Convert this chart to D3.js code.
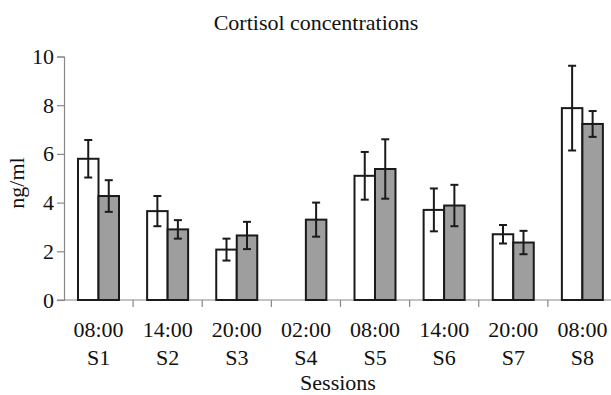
<!DOCTYPE html>
<html>
<head>
<meta charset="utf-8">
<script src="https://cdn.jsdelivr.net/npm/d3@7"></script>
<style>
  body { margin: 0; background: #fff; }
  text { font-family: "Liberation Serif", "Times New Roman", serif; fill: #111; }
</style>
</head>
<body>
<script>
// data
const sessions = ["S1", "S2", "S3", "S4", "S5", "S6", "S7", "S8"];
const times = ["08:00", "14:00", "20:00", "02:00", "08:00", "14:00", "20:00", "08:00"];
const whiteMeans = [5.8, 3.65, 2.07, null, 5.1, 3.7, 2.7, 7.88];
const whiteErr = [0.77, 0.62, 0.45, null, 0.98, 0.88, 0.38, 1.74];
const grayMeans = [4.27, 2.9, 2.65, 3.3, 5.38, 3.88, 2.36, 7.23];
const grayErr = [0.65, 0.38, 0.56, 0.7, 1.22, 0.85, 0.48, 0.53];
const yTicks = [0, 2, 4, 6, 8, 10];

const chart = {
    width: 611,
    height: 395,
    left: 64,
    right: 617,
    top: 56.5,
    bottom: 300
};

const svg = d3.select("body").append("svg")
    .attr("width", chart.width)
    .attr("height", chart.height);

const x = d3.scaleBand()
    .domain(sessions)
    .range([chart.left, chart.right]);

const x1 = d3.scaleBand()
    .domain(["white", "gray"])
    .range([14, 55]);

const y = d3.scaleLinear()
    .domain([0, 10])
    .range([chart.bottom, chart.top]);

// title
svg.append("text")
    .attr("x", 316)
    .attr("y", 30)
    .attr("text-anchor", "middle")
    .style("font-size", "22px")
    .text("Cortisol concentrations");

// y axis
const yAxis = svg.append("g")
    .attr("transform", "translate(" + chart.left + ",0)")
    .call(d3.axisLeft(y).tickValues(yTicks).tickSize(7).tickPadding(3));
yAxis.select(".domain").attr("stroke", "#888").attr("stroke-width", 1.2);
yAxis.selectAll(".tick line").attr("stroke", "#888").attr("stroke-width", 1.2);
yAxis.selectAll(".tick text")
    .style("font-size", "22px")
    .style("font-family", "Liberation Serif, serif")
    .attr("fill", "#111");

svg.append("text")
    .attr("transform", "translate(24,183) rotate(-90)")
    .attr("text-anchor", "middle")
    .style("font-size", "22px")
    .text("ng/ml");

// x axis
const xAxis = svg.append("g")
    .attr("transform", "translate(0," + chart.bottom + ")")
    .call(d3.axisBottom(x).tickSize(0).tickFormat(""));
xAxis.select(".domain").remove();
xAxis.append("line")
    .attr("x1", chart.left - 7)
    .attr("x2", chart.width)
    .attr("stroke", "#888")
    .attr("stroke-width", 1.2);
xAxis.selectAll(".boundary")
    .data(sessions)
    .enter()
    .append("line")
    .attr("class", "boundary")
    .attr("x1", d => x(d) + x.step())
    .attr("x2", d => x(d) + x.step())
    .attr("y1", 0)
    .attr("y2", 7)
    .attr("stroke", "#888")
    .attr("stroke-width", 1.2);

const labels = xAxis.selectAll(".tick text")
    .text(null)
    .attr("y", 0)
    .attr("dy", null)
    .style("font-size", "22px")
    .style("font-family", "Liberation Serif, serif")
    .attr("fill", "#111");
labels.append("tspan").attr("x", 0).attr("y", 37).text((d, i) => times[i]);
labels.append("tspan").attr("x", 0).attr("y", 65).text(d => d);

svg.append("text")
    .attr("x", 338)
    .attr("y", 390)
    .attr("text-anchor", "middle")
    .style("font-size", "22px")
    .text("Sessions");

// bars
const rows = sessions.map((s, i) => ({
    s: s,
    bars: [
        { key: "white", v: whiteMeans[i], e: whiteErr[i] },
        { key: "gray", v: grayMeans[i], e: grayErr[i] }
    ].filter(b => b.v != null)
}));

const groups = svg.selectAll(".group")
    .data(rows)
    .enter()
    .append("g")
    .attr("class", "group")
    .attr("transform", d => "translate(" + x(d.s) + ",0)");

groups.selectAll("rect")
    .data(d => d.bars)
    .enter()
    .append("rect")
    .attr("x", d => x1(d.key))
    .attr("y", d => y(d.v))
    .attr("width", x1.bandwidth())
    .attr("height", d => y(0) - y(d.v))
    .attr("fill", d => d.key === "white" ? "#fff" : "#9e9e9e")
    .attr("stroke", "#1a1a1a")
    .attr("stroke-width", 2);

const err = groups.selectAll(".err")
    .data(d => d.bars)
    .enter()
    .append("g")
    .attr("class", "err")
    .attr("stroke", "#1a1a1a")
    .attr("stroke-width", 2);
const cx = d => x1(d.key) + x1.bandwidth() / 2;
err.append("line")
    .attr("x1", cx).attr("x2", cx)
    .attr("y1", d => y(d.v + d.e))
    .attr("y2", d => y(d.v - d.e));
err.append("line")
    .attr("x1", d => cx(d) - 4).attr("x2", d => cx(d) + 4)
    .attr("y1", d => y(d.v + d.e)).attr("y2", d => y(d.v + d.e));
err.append("line")
    .attr("x1", d => cx(d) - 4).attr("x2", d => cx(d) + 4)
    .attr("y1", d => y(d.v - d.e)).attr("y2", d => y(d.v - d.e));
</script>
</body>
</html>
